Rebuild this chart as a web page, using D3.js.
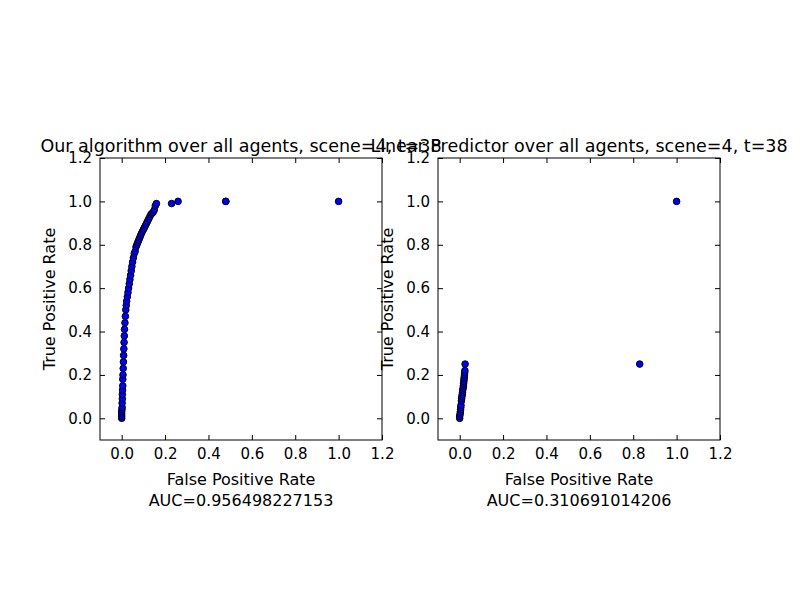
<!DOCTYPE html>
<html><head><meta charset="utf-8">
<script src="https://cdn.jsdelivr.net/npm/d3@7"></script>
<style>body{margin:0;background:#fff}text{font-family:"DejaVu Sans",sans-serif}</style>
</head><body>
<script>
const leftFpr = [0,0,0,0,0.001,0.002,0.002,0.003,0.003,0.004,0.005,0.005,0.006,0.007,0.008,0.009,0.01,0.011,0.012,0.013,0.015,0.017,0.019,0.021,0.023,0.026,0.029,0.032,0.035,0.038,0.041,0.044,0.047,0.05,0.054,0.058,0.062,0.066,0.07,0.074,0.078,0.082,0.086,0.09,0.095,0.1,0.105,0.11,0.115,0.12,0.125,0.13,0.135,0.14,0.145,0.15,0.155,0.16,0.23,0.26,0.48,0.48,1.0];
const leftTpr = [0,0.01,0.02,0.03,0.04,0.05,0.07,0.09,0.11,0.13,0.15,0.18,0.2,0.23,0.26,0.29,0.32,0.35,0.38,0.41,0.44,0.47,0.5,0.52,0.54,0.56,0.58,0.6,0.62,0.64,0.66,0.68,0.7,0.72,0.74,0.76,0.77,0.79,0.8,0.81,0.82,0.83,0.84,0.85,0.86,0.87,0.88,0.89,0.9,0.91,0.92,0.93,0.94,0.945,0.95,0.96,0.98,0.99,0.99,1.0,1.0,1.0,1.0];
const rightFpr = [0,0,0.002,0.003,0.004,0.005,0.006,0.008,0.009,0.01,0.012,0.013,0.014,0.016,0.017,0.018,0.019,0.02,0.021,0.022,0.023,0.024,0.025,0.83,1.0];
const rightTpr = [0,0.01,0.02,0.03,0.04,0.05,0.06,0.08,0.09,0.1,0.11,0.12,0.13,0.14,0.15,0.16,0.17,0.18,0.19,0.2,0.21,0.22,0.25,0.25,1.0];
const ticks = [0.0,0.2,0.4,0.6,0.8,1.0,1.2];

const panels = [
  {x0:100, fpr:leftFpr, tpr:leftTpr, title:"Our algorithm over all agents, scene=4, t=38", auc:"AUC=0.956498227153"},
  {x0:438, fpr:rightFpr, tpr:rightTpr, title:"Linear Predictor over all agents, scene=4,  t=38", auc:"AUC=0.310691014206"}
];
const W = 282, topY = 158, H = 282;
const svg = d3.select('body').append('svg').attr('width',800).attr('height',600);

panels.forEach(p => {
  const x = d3.scaleLinear().domain([-0.1,1.2]).range([p.x0,p.x0+W]);
  const y = d3.scaleLinear().domain([-0.1,1.2]).range([topY+H,topY]);
  const xa = d3.axisBottom(x).tickValues(ticks).tickFormat(d3.format('.1f')).tickSizeInner(-5).tickSizeOuter(0).tickPadding(8);
  const ya = d3.axisLeft(y).tickValues(ticks).tickFormat(d3.format('.1f')).tickSizeInner(-5).tickSizeOuter(0).tickPadding(8);
  const gx = svg.append('g').attr('transform',`translate(0,${topY+H})`).call(xa);
  const gy = svg.append('g').attr('transform',`translate(${p.x0},0)`).call(ya);
  [gx,gy].forEach(g=>{g.select('.domain').remove();g.selectAll('text').style('font-size','15px').style('font-family','DejaVu Sans');});
  svg.append('g').attr('transform',`translate(0,${topY})`).call(d3.axisTop(x).tickValues(ticks).tickFormat('').tickSizeInner(-5).tickSizeOuter(0)).select('.domain').remove();
  svg.append('g').attr('transform',`translate(${p.x0+W},0)`).call(d3.axisRight(y).tickValues(ticks).tickFormat('').tickSizeInner(-5).tickSizeOuter(0)).select('.domain').remove();
  svg.append('rect').attr('x',p.x0).attr('y',topY).attr('width',W).attr('height',H).attr('fill','none').attr('stroke','#000');
  svg.append('g').selectAll('circle').data(p.fpr.map((f,i)=>[f,p.tpr[i]])).enter().append('circle')
    .attr('cx',d=>x(d[0])).attr('cy',d=>y(d[1])).attr('r',3.3)
    .attr('fill','#0000ff').attr('stroke','#000').attr('stroke-width',1);
  svg.append('text').attr('x',p.x0+W/2).attr('y',485).attr('text-anchor','middle').style('font-size','16px').text('False Positive Rate');
  svg.append('text').attr('x',p.x0+W/2).attr('y',506).attr('text-anchor','middle').style('font-size','16px').text(p.auc);
  svg.append('text').attr('transform',`translate(${p.x0-45},${topY+H/2})rotate(-90)`).attr('text-anchor','middle').style('font-size','16px').text('True Positive Rate');
  svg.append('text').attr('x',p.x0+W/2).attr('y',152).attr('text-anchor','middle').style('font-size','17.5px').text(p.title);
});
</script>
</body></html>
